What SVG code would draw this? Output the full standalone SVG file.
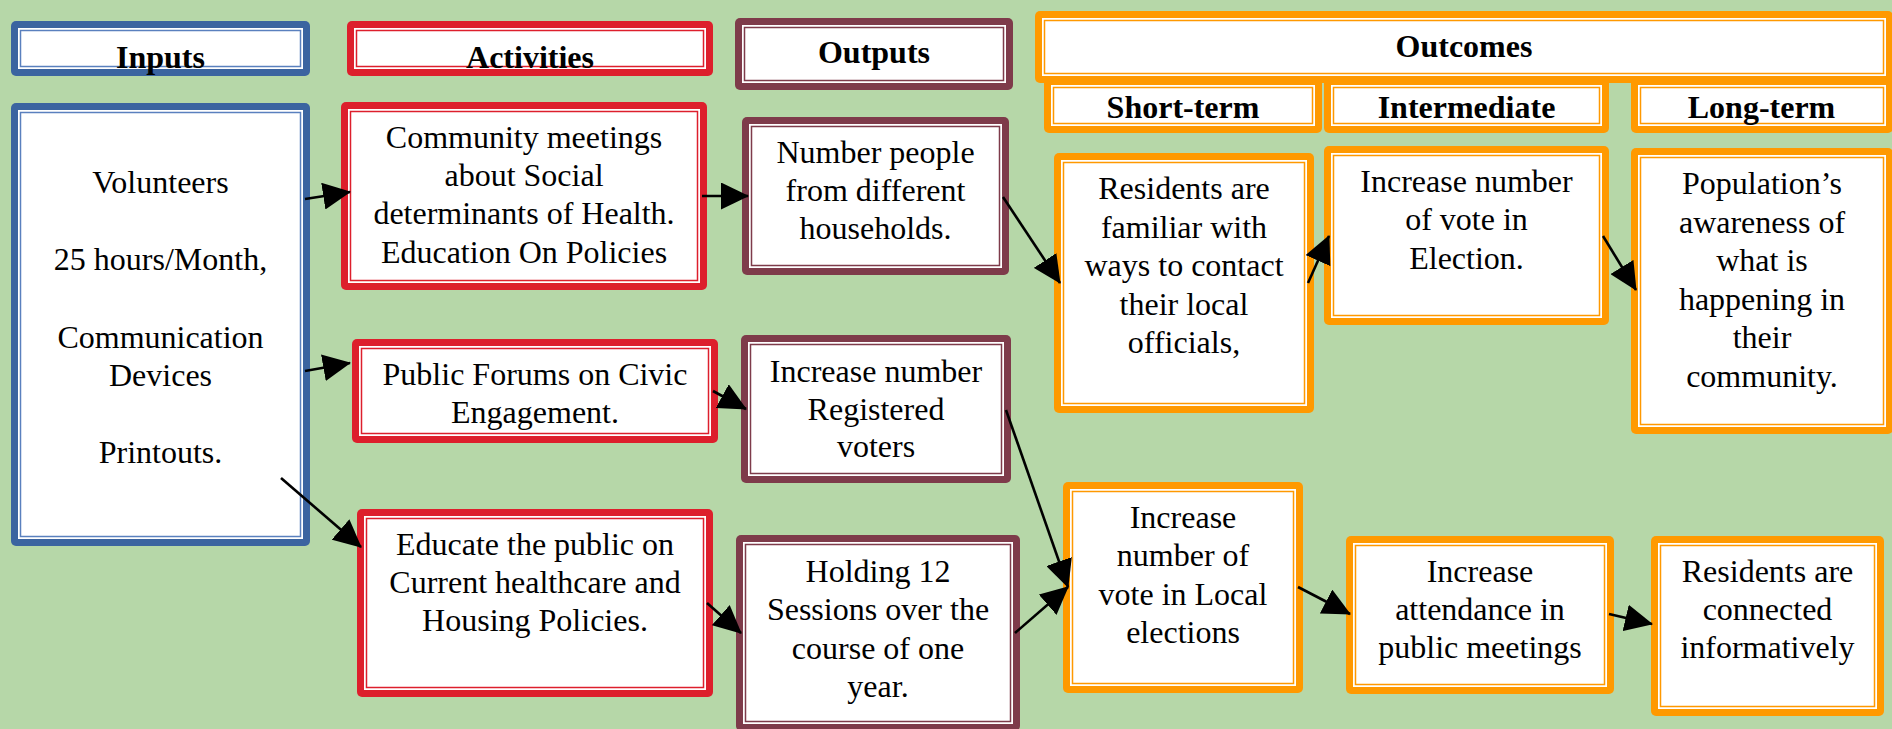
<svg xmlns="http://www.w3.org/2000/svg" width="1892" height="729" viewBox="0 0 1892 729">
<style>
.o{rx:5px;ry:5px}
.w{fill:#fff}
.l{fill:none;stroke-width:1.5}
.blue{fill:#3B64A0}
.lblue{stroke:#5A80BE}
.red{fill:#DD1F2C}
.lred{stroke:#DD1F2C}
.mar{fill:#7E3B4A}
.lmar{stroke:#7E3B4A}
.org{fill:#FF9900}
.lorg{stroke:#FF9900}
text{font-family:"Liberation Serif","Times New Roman",serif;font-size:32px;text-anchor:middle;fill:#000}
.h{font-weight:bold}
.c{stroke:#000;stroke-width:2.6;fill:none;marker-end:url(#ah)}
</style>
<defs>
<marker id="ah" markerUnits="userSpaceOnUse" viewBox="0 0 28 27" markerWidth="28" markerHeight="27" refX="27" refY="13.5" orient="auto">
<path d="M0,0 L28,13.5 L0,27 Z" fill="#000"/>
</marker>
</defs>
<rect x="0" y="0" width="1892" height="729" fill="#B6D7A8"/>

<g id="inputs-header">
<rect class="o blue" x="11" y="21" width="299" height="55"/><rect class="w" x="18" y="28" width="285" height="41"/><rect class="l lblue" x="20.5" y="30.5" width="280" height="36"/>
<text class="h" x="160.5" y="68">Inputs</text>
</g>
<g id="activities-header">
<rect class="o red" x="347" y="21" width="366" height="55"/><rect class="w" x="354" y="28" width="352" height="41"/><rect class="l lred" x="356.5" y="30.5" width="347" height="36"/>
<text class="h" x="530" y="68">Activities</text>
</g>
<g id="outputs-header">
<rect class="o mar" x="735" y="18" width="278" height="72"/><rect class="w" x="742" y="25" width="264" height="58"/><rect class="l lmar" x="744.5" y="27.5" width="259" height="53"/>
<text class="h" x="874" y="63">Outputs</text>
</g>
<g id="outcomes-header">
<rect class="o org" x="1035" y="11" width="858" height="72"/><rect class="w" x="1042" y="18" width="844" height="58"/><rect class="l lorg" x="1044.5" y="20.5" width="839" height="53"/>
<text class="h" x="1464" y="57">Outcomes</text>
</g>
<g id="short-term-header">
<rect class="o org" x="1044" y="78" width="278" height="55"/><rect class="w" x="1051" y="85" width="264" height="41"/><rect class="l lorg" x="1053.5" y="87.5" width="259" height="36"/>
<text class="h" x="1183" y="118">Short-term</text>
</g>
<g id="intermediate-header">
<rect class="o org" x="1324" y="78" width="285" height="55"/><rect class="w" x="1331" y="85" width="271" height="41"/><rect class="l lorg" x="1333.5" y="87.5" width="266" height="36"/>
<text class="h" x="1466.5" y="118">Intermediate</text>
</g>
<g id="long-term-header">
<rect class="o org" x="1631" y="78" width="262" height="55"/><rect class="w" x="1638" y="85" width="248" height="41"/><rect class="l lorg" x="1640.5" y="87.5" width="243" height="36"/>
<text class="h" x="1761.5" y="118">Long-term</text>
</g>

<g id="inputs">
<rect class="o blue" x="11" y="103" width="299" height="443"/><rect class="w" x="18" y="110" width="285" height="429"/><rect class="l lblue" x="20.5" y="112.5" width="280" height="424"/>
<text x="160.5" y="193">Volunteers</text>
<text x="160.5" y="270">25 hours/Month,</text>
<text x="160.5" y="347.5">Communication</text>
<text x="160.5" y="386">Devices</text>
<text x="160.5" y="463">Printouts.</text>
</g>
<g id="community-meetings">
<rect class="o red" x="341" y="102" width="366" height="188"/><rect class="w" x="348" y="109" width="352" height="174"/><rect class="l lred" x="350.5" y="111.5" width="347" height="169"/>
<text x="524" y="147.5">Community meetings</text>
<text x="524" y="186">about Social</text>
<text x="524" y="224">determinants of Health.</text>
<text x="524" y="262.5">Education On Policies</text>
</g>
<g id="public-forums">
<rect class="o red" x="352" y="339" width="366" height="104"/><rect class="w" x="359" y="346" width="352" height="90"/><rect class="l lred" x="361.5" y="348.5" width="347" height="85"/>
<text x="535" y="385">Public Forums on Civic</text>
<text x="535" y="423">Engagement.</text>
</g>
<g id="educate">
<rect class="o red" x="357" y="509" width="356" height="188"/><rect class="w" x="364" y="516" width="342" height="174"/><rect class="l lred" x="366.5" y="518.5" width="337" height="169"/>
<text x="535" y="555">Educate the public on</text>
<text x="535" y="593">Current healthcare and</text>
<text x="535" y="631">Housing Policies.</text>
</g>
<g id="number-people">
<rect class="o mar" x="742" y="117" width="267" height="158"/><rect class="w" x="749" y="124" width="253" height="144"/><rect class="l lmar" x="751.5" y="126.5" width="248" height="139"/>
<text x="875.5" y="163">Number people</text>
<text x="875.5" y="201">from different</text>
<text x="875.5" y="239">households.</text>
</g>
<g id="registered-voters">
<rect class="o mar" x="741" y="335" width="270" height="148"/><rect class="w" x="748" y="342" width="256" height="134"/><rect class="l lmar" x="750.5" y="344.5" width="251" height="129"/>
<text x="876" y="382">Increase number</text>
<text x="876" y="419.5">Registered</text>
<text x="876" y="457">voters</text>
</g>
<g id="holding-sessions">
<rect class="o mar" x="736" y="535" width="284" height="196"/><rect class="w" x="743" y="542" width="270" height="182"/><rect class="l lmar" x="745.5" y="544.5" width="265" height="177"/>
<text x="878" y="582">Holding 12</text>
<text x="878" y="620">Sessions over the</text>
<text x="878" y="658.5">course of one</text>
<text x="878" y="697">year.</text>
</g>
<g id="residents-familiar">
<rect class="o org" x="1054" y="153" width="260" height="260"/><rect class="w" x="1061" y="160" width="246" height="246"/><rect class="l lorg" x="1063.5" y="162.5" width="241" height="241"/>
<text x="1184" y="199">Residents are</text>
<text x="1184" y="237.5">familiar with</text>
<text x="1184" y="276">ways to contact</text>
<text x="1184" y="314.5">their local</text>
<text x="1184" y="353">officials,</text>
</g>
<g id="vote-election">
<rect class="o org" x="1324" y="146" width="285" height="179"/><rect class="w" x="1331" y="153" width="271" height="165"/><rect class="l lorg" x="1333.5" y="155.5" width="266" height="160"/>
<text x="1466.5" y="191.5">Increase number</text>
<text x="1466.5" y="230">of vote in</text>
<text x="1466.5" y="268.5">Election.</text>
</g>
<g id="population-awareness">
<rect class="o org" x="1631" y="148" width="262" height="286"/><rect class="w" x="1638" y="155" width="248" height="272"/><rect class="l lorg" x="1640.5" y="157.5" width="243" height="267"/>
<text x="1762" y="194">Population’s</text>
<text x="1762" y="232.5">awareness of</text>
<text x="1762" y="271">what is</text>
<text x="1762" y="309.5">happening in</text>
<text x="1762" y="348">their</text>
<text x="1762" y="386.5">community.</text>
</g>
<g id="vote-local">
<rect class="o org" x="1063" y="482" width="240" height="211"/><rect class="w" x="1070" y="489" width="226" height="197"/><rect class="l lorg" x="1072.5" y="491.5" width="221" height="192"/>
<text x="1183" y="528">Increase</text>
<text x="1183" y="566">number of</text>
<text x="1183" y="604.5">vote in Local</text>
<text x="1183" y="643">elections</text>
</g>
<g id="attendance">
<rect class="o org" x="1346" y="536" width="268" height="158"/><rect class="w" x="1353" y="543" width="254" height="144"/><rect class="l lorg" x="1355.5" y="545.5" width="249" height="139"/>
<text x="1480" y="582">Increase</text>
<text x="1480" y="620">attendance in</text>
<text x="1480" y="658">public meetings</text>
</g>
<g id="residents-connected">
<rect class="o org" x="1651" y="536" width="233" height="180"/><rect class="w" x="1658" y="543" width="219" height="166"/><rect class="l lorg" x="1660.5" y="545.5" width="214" height="161"/>
<text x="1767.5" y="582">Residents are</text>
<text x="1767.5" y="620">connected</text>
<text x="1767.5" y="658">informatively</text>
</g>

<g id="connectors">
<line class="c" x1="305" y1="199" x2="350" y2="192"/>
<line class="c" x1="702" y1="196" x2="748" y2="196"/>
<line class="c" x1="1003" y1="197" x2="1060" y2="283"/>
<line class="c" x1="1308" y1="283" x2="1329" y2="236"/>
<line class="c" x1="1603" y1="236" x2="1636" y2="290"/>
<line class="c" x1="305" y1="371" x2="350" y2="363"/>
<line class="c" x1="281" y1="478" x2="361" y2="547"/>
<line class="c" x1="713" y1="391" x2="746" y2="409"/>
<line class="c" x1="707" y1="603" x2="741" y2="633"/>
<line class="c" x1="1006" y1="410" x2="1068" y2="587"/>
<line class="c" x1="1015" y1="633" x2="1068" y2="587"/>
<line class="c" x1="1298" y1="587" x2="1350" y2="614"/>
<line class="c" x1="1609" y1="614" x2="1652" y2="624"/>
</g>
</svg>
